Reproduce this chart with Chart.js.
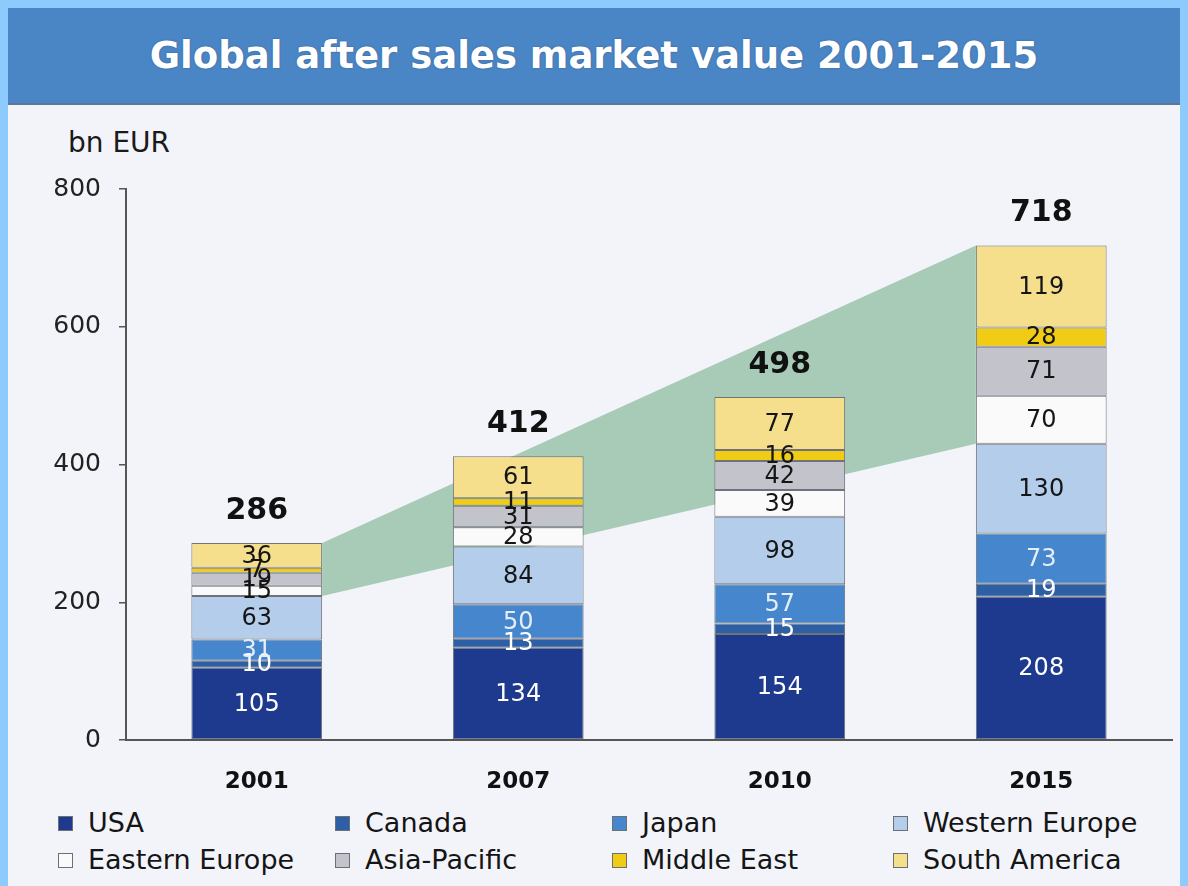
<!DOCTYPE html>
<html>
<head>
<meta charset="utf-8">
<script src="https://cdn.jsdelivr.net/npm/chart.js@4/dist/chart.umd.min.js"></script>
<style>
  body { margin: 0; }
  #page { position: relative; width: 1188px; height: 886px; background: #8ccbfc; overflow: hidden; font-family: "DejaVu Sans", sans-serif; }
  #title { position: absolute; left: 8px; top: 8px; width: 1172px; height: 95px; background: #4a86c6; border-bottom: 2px solid #5d7896;
           color: #fff; font-weight: bold; font-size: 37px; line-height: 95px; text-align: center; text-shadow: 0 0 2px rgba(40,60,90,0.6); }
  #panel { position: absolute; left: 8px; top: 105px; width: 1172px; height: 781px; background: #f2f4f9; }
  #unit { position: absolute; left: 68px; top: 127px; font-size: 28px; line-height: 32px; color: #1a1a1a; }
  #chart { position: absolute; left: 8px; top: 105px; }
  .item { position: absolute; height: 32px; line-height: 32px; font-size: 27px; color: #151515; display: flex; align-items: center; white-space: nowrap; }
  .box { width: 13px; height: 13px; border: 1px solid #6d6f76; margin-right: 15px; }
</style>
</head>
<body>
<div id="page">
  <div id="title">Global after sales market value 2001-2015</div>
  <div id="panel"></div>
  <div id="unit">bn EUR</div>
  <canvas id="chart" width="1172" height="700"></canvas>
  <div id="legend"></div>
</div>
<script>
// data
const years = ['2001', '2007', '2010', '2015'];
const regions = ['USA', 'Canada', 'Japan', 'Western Europe', 'Eastern Europe', 'Asia-Pacific', 'Middle East', 'South America'];
const usa = [105, 134, 154, 208];
const canada = [10, 13, 15, 19];
const japan = [31, 50, 57, 73];
const westernEurope = [63, 84, 98, 130];
const easternEurope = [15, 28, 39, 70];
const asiaPacific = [19, 31, 42, 71];
const middleEast = [7, 11, 16, 28];
const southAmerica = [36, 61, 77, 119];
const totals = [286, 412, 498, 718];
const yTicks = [0, 200, 400, 600, 800];

const series = [usa, canada, japan, westernEurope, easternEurope, asiaPacific, middleEast, southAmerica];
const colors = ['#1e3a8e', '#2c5fa3', '#4686cc', '#b4cdeb', '#fafafa', '#c3c3cc', '#f0cc14', '#f5de8c'];
const labelColors = ['#ffffff', '#ffffff', '#e4eefa', '#151515', '#151515', '#151515', '#151515', '#151515'];
const FONT = '"DejaVu Sans", sans-serif';

// legend, 4 columns x 2 rows
const colX = [58, 335, 612, 893];
const rowY = [807, 844];
const legend = document.getElementById('legend');
regions.forEach(function (name, i) {
    const el = document.createElement('div');
    el.className = 'item';
    el.style.left = colX[i % 4] + 'px';
    el.style.top = rowY[Math.floor(i / 4)] + 'px';
    el.innerHTML = '<span class="box" style="background:' + colors[i] + '"></span>' + name;
    legend.appendChild(el);
});

// green band from 2001 to 2015 (Western Europe top to total)
const bandPlugin = {
    id: 'band',
    beforeDatasetsDraw(chart) {
        const ctx = chart.ctx;
        const top = chart.getDatasetMeta(7).data;
        const we = chart.getDatasetMeta(3).data;
        const a = 0, b = years.length - 1;
        const x0 = top[a].x + top[a].width / 2;
        const x1 = top[b].x - top[b].width / 2;
        ctx.save();
        ctx.fillStyle = '#a8cbb7';
        ctx.beginPath();
        ctx.moveTo(x0, top[a].y);
        ctx.lineTo(x1, top[b].y);
        ctx.lineTo(x1, we[b].y);
        ctx.lineTo(x0, we[a].y);
        ctx.closePath();
        ctx.fill();
        ctx.restore();
    }
};

// value labels inside segments + totals above bars
const labelPlugin = {
    id: 'labels',
    afterDatasetsDraw(chart) {
        const ctx = chart.ctx;
        ctx.save();
        ctx.textAlign = 'center';
        ctx.textBaseline = 'middle';
        ctx.font = '24px ' + FONT;
        chart.data.datasets.forEach(function (ds, i) {
            chart.getDatasetMeta(i).data.forEach(function (bar, j) {
                ctx.fillStyle = labelColors[i];
                ctx.fillText(String(ds.data[j]), bar.x, (bar.y + bar.base) / 2 + 1);
            });
        });
        ctx.font = 'bold 30px ' + FONT;
        ctx.fillStyle = '#111';
        chart.getDatasetMeta(7).data.forEach(function (bar, j) {
            ctx.fillText(String(totals[j]), bar.x, bar.y - 32);
        });
        ctx.restore();
    }
};

new Chart(document.getElementById('chart'), {
    type: 'bar',
    data: {
        labels: years,
        datasets: regions.map(function (name, i) {
            return {
                label: name,
                data: series[i],
                backgroundColor: colors[i],
                borderColor: '#717279',
                borderWidth: 1,
                borderSkipped: false,
                barPercentage: 0.5,
                categoryPercentage: 1
            };
        })
    },
    options: {
        responsive: false,
        animation: false,
        layout: { padding: { top: 84, right: 8, left: 0, bottom: 0 } },
        plugins: { legend: { display: false }, tooltip: { enabled: false } },
        scales: {
            x: {
                stacked: true,
                grid: { display: false, drawTicks: false },
                border: { display: true, color: '#555', width: 2 },
                ticks: { font: { family: FONT, size: 23, weight: 'bold' }, color: '#111', padding: 28 },
                afterFit: function (s) { s.height = 65; }
            },
            y: {
                stacked: true,
                min: 0,
                max: 800,
                afterBuildTicks: function (s) { s.ticks = yTicks.map(function (v) { return { value: v }; }); },
                ticks: { font: { family: FONT, size: 25 }, color: '#222', padding: 18 },
                grid: { drawOnChartArea: false, drawTicks: true, tickLength: 7, color: '#555', lineWidth: 1.5 },
                border: { display: true, color: '#555', width: 2 },
                afterFit: function (s) { s.width = 118; }
            }
        }
    },
    plugins: [bandPlugin, labelPlugin]
});
</script>
</body>
</html>
